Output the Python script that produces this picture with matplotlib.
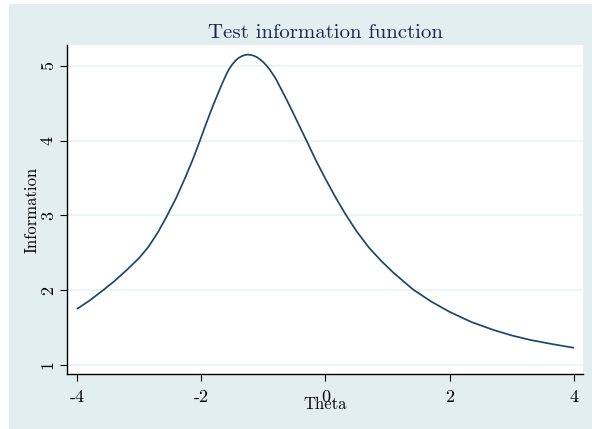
import matplotlib
matplotlib.use("Agg")
import matplotlib.pyplot as plt
from matplotlib.patches import Rectangle

# values
theta = [-4.0, -3.8, -3.58, -3.4, -3.2, -3.0, -2.85, -2.7, -2.56, -2.4, -2.25,
         -2.13, -2.03, -1.92, -1.8, -1.68, -1.6, -1.55, -1.5, -1.45, -1.4,
         -1.35, -1.3, -1.25, -1.2, -1.15, -1.1, -1.05, -1.0, -0.95, -0.9,
         -0.8, -0.62, -0.45, -0.31, -0.15, 0.0, 0.15, 0.32, 0.5, 0.7, 0.9,
         1.1, 1.41, 1.7, 2.0, 2.35, 2.7, 3.0, 3.3, 3.65, 4.0]
information = [1.75, 1.86, 2.00, 2.12, 2.27, 2.43, 2.58, 2.77, 2.98, 3.24, 3.52,
               3.76, 3.98, 4.23, 4.49, 4.73, 4.88, 4.96, 5.02, 5.07, 5.105,
               5.13, 5.145, 5.152, 5.147, 5.135, 5.115, 5.085, 5.05, 5.005, 4.955,
               4.83, 4.54, 4.25, 4.01, 3.73, 3.49, 3.26, 3.02, 2.79, 2.57, 2.39,
               2.23, 2.01, 1.85, 1.71, 1.575, 1.47, 1.395, 1.335, 1.28, 1.23]
xticks = [-4, -2, 0, 2, 4]
yticks = [1, 2, 3, 4, 5]

plt.rcParams['font.family'] = 'cmr10'
plt.rcParams['axes.unicode_minus'] = False
plt.rcParams['mathtext.fontset'] = 'cm'

bg = '#e3eef0'
fig = plt.figure(figsize=(5.92, 4.29), dpi=100, facecolor='white')
# graph region (small white strip left/top as in the source image)
fig.add_artist(Rectangle((9 / 592, 0), 1, 1 - 4 / 429, transform=fig.transFigure,
                         facecolor=bg, edgecolor='none', zorder=-10))

ax = fig.add_axes([67 / 592, 55 / 429, 516 / 592, 329 / 429])
ax.set_zorder(1)
ax.set_facecolor('white')
ax.plot(theta, information, color='#1a476f', linewidth=1.25,
        solid_joinstyle='round', solid_capstyle='butt')

ax.set_xlim(-4.16, 4.145)
ax.set_ylim(0.88, 5.28)
ax.set_xticks(xticks)
ax.set_yticks(yticks)
ax.set_xticklabels([str(t) for t in xticks])
ax.set_yticklabels([str(t) for t in yticks], rotation=90, va='center')
ax.tick_params(axis='both', labelsize=13, length=5, width=0.8, color='black')
ax.tick_params(axis='x', pad=6)
ax.tick_params(axis='y', pad=3)

ax.grid(axis='y', color='#eaf2f3', linewidth=1.2)
ax.set_axisbelow(True)
for side in ['top', 'right']:
    ax.spines[side].set_visible(False)
for side in ['left', 'bottom']:
    ax.spines[side].set_linewidth(1.0)

ax.set_title('Test information function', fontsize=15, color='#1a2a50', pad=5)
ax.set_xlabel('Theta', fontsize=12, labelpad=-6)
ax.set_ylabel('Information', fontsize=12, labelpad=1)

plt.savefig('out.png', dpi=100, facecolor=fig.get_facecolor())
